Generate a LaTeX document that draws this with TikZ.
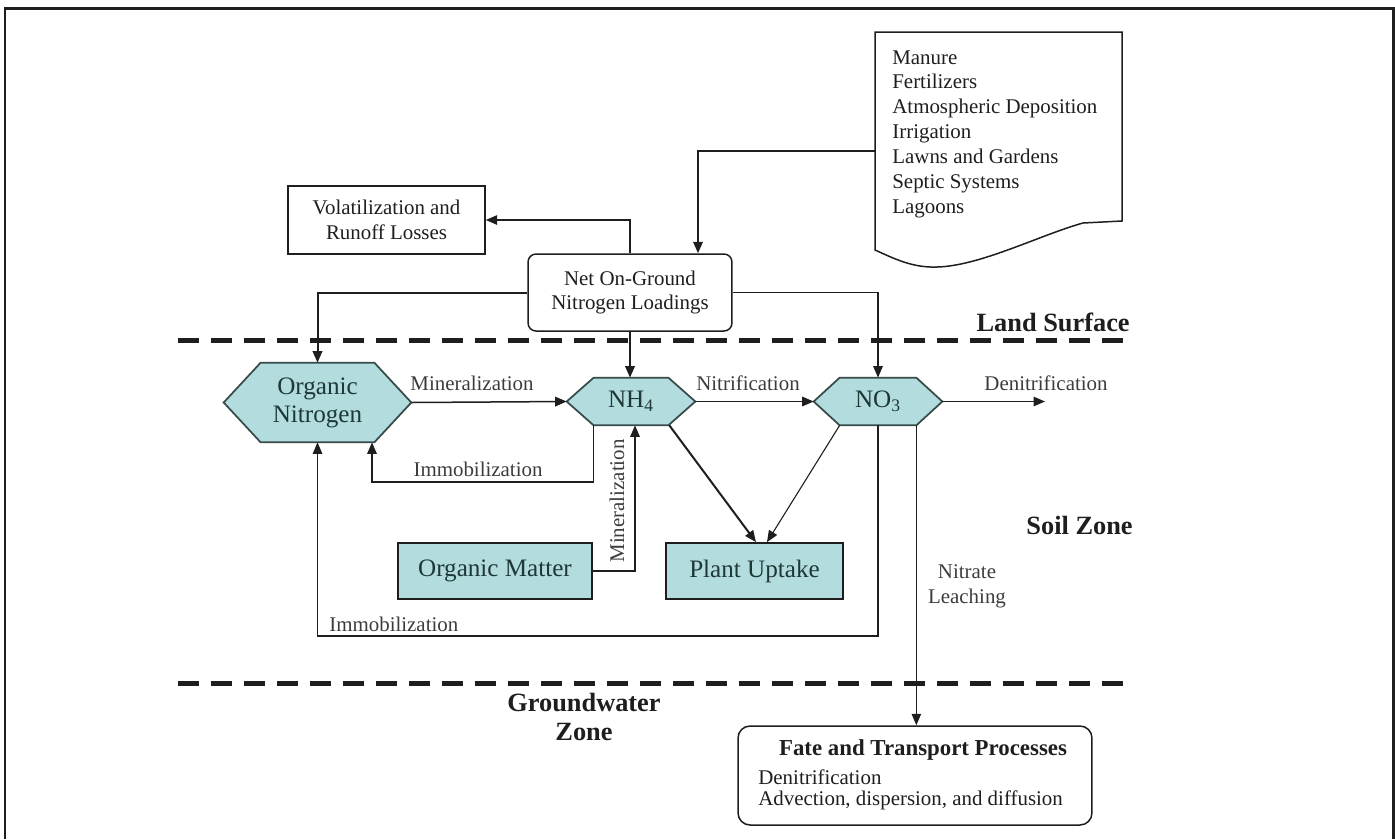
\documentclass[tikz,border=0pt]{standalone}
\usepackage{fontspec}
\setmainfont{Liberation Serif}
\usetikzlibrary{arrows.meta,backgrounds,calc,fit}
\definecolor{tealfill}{RGB}{178,220,222}
\definecolor{hexedge}{RGB}{55,75,75}
\definecolor{hextext}{RGB}{30,55,55}
\definecolor{ink}{RGB}{30,30,30}
\definecolor{lblink}{RGB}{60,60,60}
\newcommand{\lblfont}{\fontsize{11.9}{14.2}\selectfont}
\newcommand{\hexfont}{\fontsize{14.3}{15.9}\selectfont}
\newcommand{\zonefont}{\bfseries\fontsize{15}{17}\selectfont}
\newcommand{\hexdraw}[2]{\draw[hexpath] (#1.west) -- ([xshift=#2]#1.north west) -- ([xshift=-#2]#1.north east) -- (#1.east) -- ([xshift=-#2]#1.south east) -- ([xshift=#2]#1.south west) -- cycle;}
\tikzset{
  conn/.style={draw=ink, line width=0.022cm, -{Triangle[length=0.23cm,width=0.19cm]}},
  medconn/.style={conn, line width=0.03cm},
  thickconn/.style={conn, line width=0.04cm},
  lbl/.style={font=\lblfont, text=lblink, inner sep=0},
  zonelbl/.style={font=\zonefont, text=ink, inner sep=0},
  plainbox/.style={draw=ink, line width=0.03cm, align=center, inner sep=0, font=\lblfont, text=ink},
  tealbox/.style={draw=ink, line width=0.035cm, fill=tealfill, inner sep=0, font=\hexfont, text=hextext},
  hexa/.style={inner sep=0, align=center, font=\hexfont, text=hextext},
  hexpath/.style={fill=tealfill, draw=hexedge, line width=0.035cm},
  dashline/.style={draw=ink, line width=0.1cm, dash pattern=on 0.42cm off 0.24cm},
}
\begin{document}
\begin{tikzpicture}[x=0.02cm,y=-0.02cm]
\useasboundingbox (0,0) rectangle (1395,839);
% frame
\draw[line width=0.06cm, ink] (5,839) -- (5,8) -- (1393,8) -- (1393,839);

% source document
\draw[line width=0.03cm, ink] (875,32) -- (1122,32) -- (1122,221) -- (1083,223)
  .. controls (1040,235) and (980,266) .. (937,267)
  .. controls (912,268) and (893,258) .. (875,250) -- cycle;
\node[fit={(875,32) (1122,250)}, inner sep=0] (doc) {};
\node[lbl, text=ink, align=left, anchor=north west] (doctext) at (892,50)
  {Manure\\Fertilizers\\Atmospheric Deposition\\Irrigation\\Lawns and Gardens\\Septic Systems\\Lagoons};
\coordinate (docout) at (875,151);
\coordinate (c698) at (698,0);

% boxes
\node[plainbox, minimum width=3.94cm, minimum height=1.36cm] (vol) at (386.5,220) {Volatilization and\\Runoff Losses};
\node[plainbox, rounded corners=0.16cm, minimum width=4.08cm, minimum height=1.54cm] (net) at (630,292.5) {Net On-Ground\\Nitrogen Loadings};

% hexagons
\node[hexa, minimum width=3.74cm, minimum height=1.58cm] (on) at (317.5,402.5) {Organic\\Nitrogen};
\node[hexa, minimum width=2.56cm, minimum height=0.94cm] (nh) at (631,401.5) {NH\textsubscript{4}};
\node[hexa, minimum width=2.56cm, minimum height=0.94cm] (no) at (878,401.5) {NO\textsubscript{3}};
\begin{scope}[on background layer]
\hexdraw{on}{0.74cm}
\hexdraw{nh}{0.54cm}
\hexdraw{no}{0.52cm}
\end{scope}

\node[tealbox, minimum width=3.88cm, minimum height=1.12cm] (om) at (495,571) {Organic Matter};
\node[tealbox, minimum width=3.54cm, minimum height=1.12cm] (pu) at (754.5,571) {Plant Uptake};

% fate box
\node[plainbox, rounded corners=0.24cm, minimum width=7.08cm, minimum height=1.98cm] (fate) at (915,775.5) {};
\node[font=\bfseries\fontsize{13}{15}\selectfont, text=ink, inner sep=0] (fatet) at (923,750) {Fate and Transport Processes};
\node[lbl, text=ink, anchor=west] (fate1) at (758,777) {Denitrification};
\node[lbl, text=ink, anchor=west] (fate2) at (758,800) {Advection, dispersion, and diffusion};

% dashed boundaries
\coordinate (d1a) at (178,340);
\coordinate (d1b) at (1133,340);
\coordinate (d2a) at (178,683);
\coordinate (d2b) at (1133,683);
\draw[dashline] (d1a) -- (d1b);
\draw[dashline] (d2a) -- (d2b);

% helper coordinates
\coordinate (imy) at (0,482);
\coordinate (c372) at (372,0);
\coordinate (c635) at (635,0);
\coordinate (loopy) at (0,636);
\coordinate (denit) at (1045,401.5);
\coordinate (nhbl) at ([xshift=0.54cm]nh.south west);
\coordinate (nhbr) at ([xshift=-0.52cm]nh.south east);
\coordinate (nobl) at ([xshift=0.52cm]no.south west);
\coordinate (nobr) at ([xshift=-0.52cm]no.south east);

% connectors
\draw[thickconn] (docout) -| (net.north -| c698);
\draw[medconn] (net.north) |- (vol.east);
\draw[thickconn] (net.west) -| (on.north);
\draw[thickconn] (net.south) -- (net.south |- nh.north);
\draw[conn] (net.east) -| (no.north);
\draw[medconn] (on.east) -- (nh.west);
\draw[medconn] (nh.east) -- (no.west);
\draw[medconn] (no.east) -- (denit);
\draw[medconn] (nhbl) -- (nhbl |- imy) -| (on.south -| c372);
\draw[medconn] (om.east) -| (nh.south -| c635);
\draw[thickconn] (nhbr) -- ([xshift=0.03cm]pu.north);
\draw[conn] (nobl) -- ([xshift=0.25cm]pu.north);
\draw[conn] (no.south) -- (no.south |- loopy) -| (on.south);
\draw[conn] (nobr) -- (nobr |- fate.north);

% labels
\node[lbl] (lmin) at (472,383) {Mineralization};
\node[lbl] (lnit) at (748,383) {Nitrification};
\node[lbl] (lden) at (1046,383) {Denitrification};
\node[lbl] (limm1) at (478,469) {Immobilization};
\node[lbl, rotate=90] (lmin2) at (617,501) {Mineralization};
\node[lbl, anchor=west] (limm2) at (329,624) {Immobilization};
\node[lbl, align=center] (lleach) at (967,586) {Nitrate\\Leaching};
\node[zonelbl, anchor=east] (lland) at (1130,322) {Land Surface};
\node[zonelbl, anchor=east] (lsoil) at (1133,525) {Soil Zone};
\node[zonelbl, align=center] (lgw) at (584,717) {Groundwater\\Zone};
\end{tikzpicture}
\end{document}
